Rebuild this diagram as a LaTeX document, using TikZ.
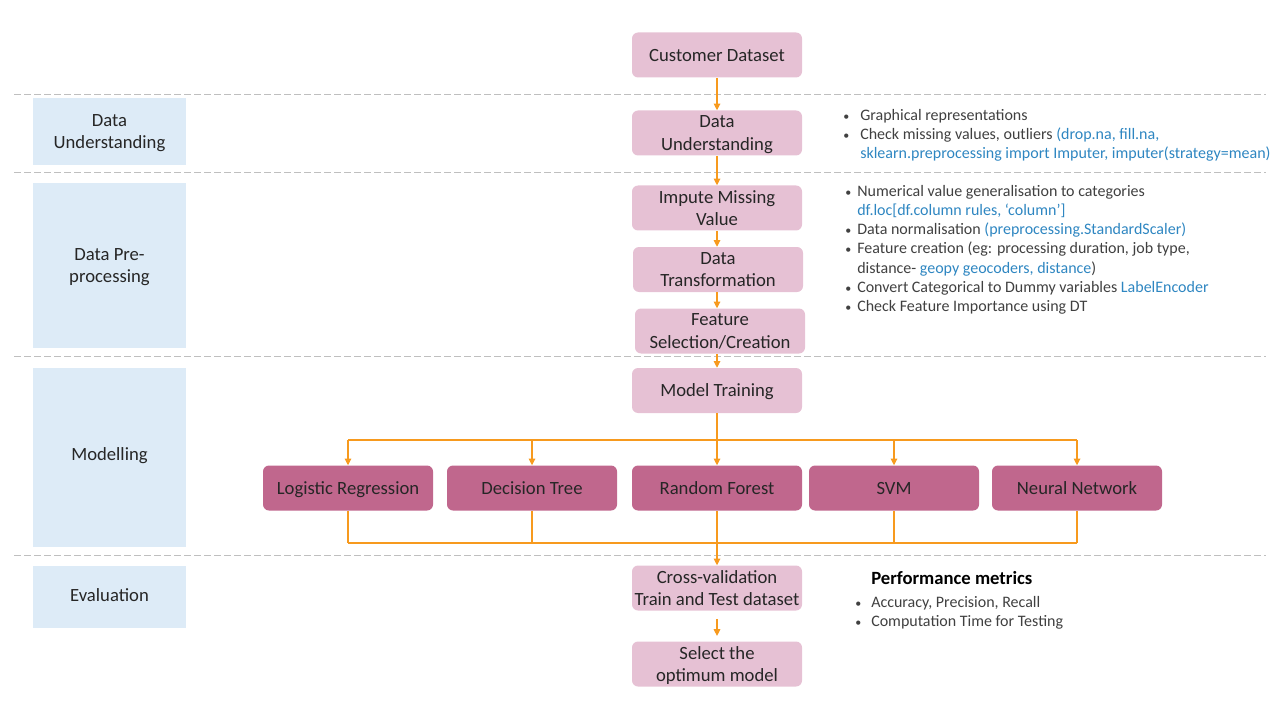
\documentclass[tikz,border=0pt]{standalone}
\usepackage{fontspec}
\setmainfont{Carlito}
\usepackage{tikz}
\usetikzlibrary{arrows.meta}

\definecolor{boxpink}{RGB}{230,193,212}
\definecolor{modpink}{RGB}{192,103,141}
\definecolor{lblblue}{RGB}{221,235,247}
\definecolor{flow}{RGB}{247,154,30}
\definecolor{sepgray}{RGB}{191,191,191}
\definecolor{codeblue}{RGB}{46,134,193}
\definecolor{txt}{RGB}{38,38,38}
\definecolor{note}{RGB}{64,64,64}

\newcommand{\code}[1]{\textcolor{codeblue}{#1}}
\newcommand{\itm}[1][9pt]{\makebox[#1][l]{\scalebox{0.75}{\textbullet}}}
\newcommand{\ind}[1][9pt]{\hspace*{#1}}

\tikzset{
  stepbox/.style={rounded corners=4.5pt, fill=boxpink, text=txt, align=center,
    minimum width=127.5pt, minimum height=33.75pt, inner xsep=0pt, text depth=0pt,
    font=\fontsize{14}{17}\selectfont},
  modelbox/.style={stepbox, fill=modpink},
  phase/.style={fill=lblblue, text=txt, align=center, minimum width=114.75pt,
    text depth=0pt, font=\fontsize{14}{17}\selectfont},
  notes/.style={anchor=north west, inner sep=0pt, align=left, text=note,
    font=\fontsize{12}{14.4}\selectfont},
  flowline/.style={draw=flow, line width=0.8pt},
  flowarrow/.style={flowline, -{Triangle[length=5pt,width=5pt]}},
  sep/.style={draw=sepgray, line width=0.75pt, dash pattern=on 5pt off 2.5pt}
}

\begin{document}
\begin{tikzpicture}[x=0.75pt,y=-0.75pt]
  \useasboundingbox (0,0) rectangle (1280,720);
  % Phase separators
  \foreach \y in {95,173,356,555}
    \draw[sep] (14,\y) -- (1266,\y);
  % Phase labels
  \node[phase, minimum height=50.25pt] (l understand) at (109.5,131.5) {Data\\Understanding};
  \node[phase, minimum height=123.75pt] (l prep) at (109.5,265.5) {Data Pre-\\processing};
  \node[phase, minimum height=134.25pt, text depth=5pt] (l model) at (109.5,457.5) {Modelling};
  \node[phase, minimum height=46.5pt, text depth=3pt] (l eval) at (109.5,597) {Evaluation};
  % Main flow
  \node[stepbox] (dataset) at (717,55) {Customer Dataset};
  \node[stepbox] (understand) at (717,133) {Data\\Understanding};
  \node[stepbox] (impute) at (717,208) {Impute Missing\\Value};
  \node[stepbox] (transform) at (718,269.5) {Data\\Transformation};
  \node[stepbox] (feature) at (720,331) {Feature\\Selection/Creation};
  \node[stepbox] (training) at (717,390.5) {Model Training};
  \draw[flowarrow] (dataset) -- (understand);
  \draw[flowarrow] (understand) -- (impute);
  \draw[flowarrow] (impute) -- (impute |- transform.north);
  \draw[flowarrow] (impute |- transform.south) -- (impute |- feature.north);
  \draw[flowarrow] (impute |- feature.south) -- (training);
  % Models
  \node[modelbox] (logreg) at (348,488) {Logistic Regression};
  \node[modelbox] (dtree) at (532,488) {Decision Tree};
  \node[modelbox] (rforest) at (717,488) {Random Forest};
  \node[modelbox] (svm) at (894,488) {SVM};
  \node[modelbox] (nnet) at (1077,488) {Neural Network};
  \coordinate (split) at (717,440);
  \coordinate (merge) at (717,543);
  \draw[flowline] (logreg |- split) -- (nnet |- split);
  \draw[flowline] (logreg |- merge) -- (nnet |- merge);
  \draw[flowarrow] (training) -- (rforest);
  \foreach \m in {logreg,dtree,svm,nnet} {
    \draw[flowarrow] (\m |- split) -- (\m.north);
    \draw[flowline] (\m.south) -- (\m |- merge);
  }
  % Evaluation
  \node[stepbox] (crossval) at (717,588) {Cross-validation\\Train and Test dataset};
  \node[stepbox] (select) at (717,664) {Select the\\optimum model};
  \draw[flowarrow] (rforest) -- (crossval);
  \draw[flowarrow, shorten <=6pt, shorten >=4pt] (crossval) -- (select);
  % Notes
  \node[notes] (n understand) at (843,109) {\itm[12.75pt]Graphical representations\\
    \itm[12.75pt]Check missing values, outliers \code{(drop.na, fill.na,}\\
    \ind[12.75pt]\code{sklearn.preprocessing import Imputer, imputer(strategy=mean)}};
  \node[notes] (n prep) at (845,185) {\itm Numerical value generalisation to categories\\
    \ind\code{df.loc[df.column rules, ‘column’]}\\
    \itm Data normalisation \code{(preprocessing.StandardScaler)}\\
    \itm Feature creation (eg: processing duration, job type,\\
    \ind distance- \code{geopy geocoders, distance})\\
    \itm Convert Categorical to Dummy variables \code{LabelEncoder}\\
    \itm Check Feature Importance using DT};
  \node[anchor=west, inner sep=0pt, text=black, font=\fontsize{14}{17}\selectfont\bfseries]
    (n metrics) at (871,578) {Performance metrics};
  \node[notes] (n eval) at (855,596) {\itm[12pt]Accuracy, Precision, Recall\\
    \itm[12pt]Computation Time for Testing};
\end{tikzpicture}
\end{document}
